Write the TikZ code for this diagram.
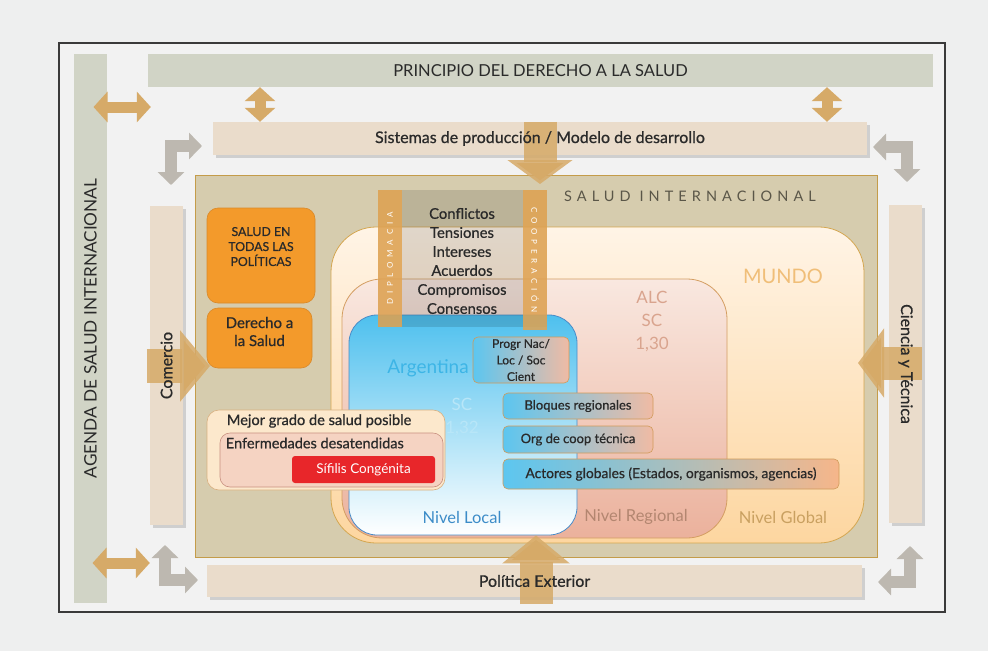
\documentclass[tikz,border=0pt]{standalone}
\usepackage{fontspec}
\setmainfont{Lato}
\newfontfamily\medfont{Lato}[FakeBold=0.7]
\usetikzlibrary{arrows.meta,shadows,positioning}

\definecolor{pagebg}{HTML}{EEEFEF}
\definecolor{framebg}{HTML}{F2F2F2}
\definecolor{frameline}{HTML}{3A3A3A}
\definecolor{greenbar}{HTML}{D1D4C6}
\definecolor{beigebar}{HTML}{EADCCB}
\definecolor{tanarrow}{HTML}{D6AA68}
\definecolor{grayarrow}{HTML}{BDB8B0}
\definecolor{saludbox}{HTML}{D6CCAE}
\definecolor{saludline}{HTML}{C49C4A}
\definecolor{orangebox}{HTML}{F39A2B}
\definecolor{orangeline}{HTML}{D9892A}
\definecolor{textdark}{HTML}{2A2A2A}
\definecolor{mundotop}{HTML}{FFF4E6}
\definecolor{mundobot}{HTML}{FDD6A0}
\definecolor{mundoline}{HTML}{D4A650}
\definecolor{alctop}{HTML}{F9E8E0}
\definecolor{alcbot}{HTML}{EBB19C}
\definecolor{alcline}{HTML}{D49E62}
\definecolor{argtop}{HTML}{4EC0EE}
\definecolor{argmid}{HTML}{74CCF1}
\definecolor{argline}{HTML}{4A8CC8}
\definecolor{boxblue}{HTML}{5CC6F0}
\definecolor{boxpink}{HTML}{F0BBA4}
\definecolor{boxmid}{HTML}{C9C3B6}
\definecolor{boxorange}{HTML}{F6B68A}
\definecolor{boxline}{HTML}{D09A5A}
\definecolor{stripcol}{HTML}{E2A452}
\definecolor{mejorfill}{HTML}{FCE8CC}
\definecolor{mejorline}{HTML}{D8B080}
\definecolor{enfermfill}{HTML}{F5D3C2}
\definecolor{enfermline}{HTML}{C89080}
\definecolor{sifilisred}{HTML}{E8262A}
\definecolor{mundotext}{HTML}{F0BE78}
\definecolor{alctext}{HTML}{D9A48E}
\definecolor{argtext}{HTML}{3DB5E6}
\definecolor{sctext}{HTML}{B8E6F8}
\definecolor{localtext}{HTML}{3C8CC8}
\definecolor{regiontext}{HTML}{B38670}
\definecolor{globaltext}{HTML}{C9A060}
\definecolor{titletext}{HTML}{5A5648}

\newcommand\fsz[2]{\fontsize{#1}{#2}\selectfont}

\begin{document}
\begin{tikzpicture}[x=1pt, y=-1pt, inner sep=0pt,
  flatbar/.style={fill=greenbar},
  bar/.style={fill=beigebar, drop shadow={shadow xshift=2.5pt, shadow yshift=-2.5pt, opacity=.3}},
  bartext/.style={font=\medfont\fsz{16}{18}, text=textdark},
  blockarrow/.style={draw=tanarrow, draw opacity=.85, line width=33pt},
  dblarrow/.style={draw=tanarrow, line width=11pt, {Triangle[width=30pt,length=14pt]}-{Triangle[width=30pt,length=14pt]}},
  bentarrow/.style={draw=grayarrow, line width=12pt, line join=miter, {Triangle[width=26pt,length=13pt]}-{Triangle[width=26pt,length=13pt]}},
  orangenode/.style={fill=orangebox, draw=orangeline, line width=.6pt, rounded corners=11pt, align=center, text=textdark},
  strip/.style={fill=stripcol, fill opacity=.85, text opacity=1, text=white, font=\fsz{8}{9}\addfontfeatures{LetterSpace=60}},
  actor/.style={left color=boxblue, right color=boxpink, draw=boxline, line width=.6pt, rounded corners=5pt, font=\medfont\fsz{13}{15}, text=textdark}]

\fill[pagebg] (0,0) rectangle (988,651);
\useasboundingbox (0,0) rectangle (988,651);
\node[fill=framebg, draw=frameline, line width=1.6pt, minimum width=886pt, minimum height=569pt] (frame) at (502,327.5) {};

% outer bars
\node[flatbar, rotate=90, minimum width=549pt, minimum height=33pt, font=\fsz{17.2}{19}, text=textdark] (agenda) at (90.5,328.5) {AGENDA DE SALUD INTERNACIONAL};
\node[flatbar, minimum width=785pt, minimum height=33pt, font=\fsz{16.5}{18}, text=textdark] (principio) at (540.5,70.5) {PRINCIPIO DEL DERECHO A LA SALUD};
\node[bar, minimum width=654pt, minimum height=33pt] (sistemas) at (540,138.5) {};
\node[bar, minimum width=33pt, minimum height=319pt] (comercio) at (166.5,365.5) {};
\node[bar, minimum width=33pt, minimum height=318pt] (ciencia) at (905.5,364) {};
\node[bar, minimum width=655pt, minimum height=32pt] (politica) at (534.5,581) {};

% double and bent arrows in the margin
\draw[dblarrow] ([xshift=3pt]agenda.east |- 0,107) -- ([xshift=3pt]principio.west |- 0,107);
\draw[dblarrow] (principio.south -| 260,0) -- (sistemas.north -| 260,0);
\draw[dblarrow] (principio.south -| 827,0) -- (sistemas.north -| 827,0);
\draw[dblarrow] ([xshift=2pt]agenda.east |- 0,563) -- (comercio.west |- 0,563);
\draw[bentarrow] (171,185) |- (202,146);
\draw[bentarrow] (873,147) -| (907,182);
\draw[bentarrow] (165,545) |- (198,580);
\draw[bentarrow] (910,546) |- (878,582);

% salud internacional and levels
\node[fill=saludbox, draw=saludline, line width=1pt, minimum width=682pt, minimum height=382pt] (salud) at (536,366) {};
\node[top color=mundotop, bottom color=mundobot, draw=mundoline, line width=.8pt, rounded corners=45pt, minimum width=533pt, minimum height=316pt] (mundo) at (597.5,385) {};
\node[top color=alctop, bottom color=alcbot, draw=alcline, line width=.8pt, rounded corners=40pt, minimum width=385pt, minimum height=259pt] (alc) at (534.5,408.5) {};
\node[top color=argtop, middle color=argmid, bottom color=white, draw=argline, line width=.8pt, rounded corners=28pt, minimum width=228pt, minimum height=220pt] (argentina) at (463,425) {};

% column of diplomacy
\node[fill=black, fill opacity=.12, minimum width=169pt, minimum height=137pt] (column) at (462.5,258.5) {};
\node[strip, rotate=90, minimum width=137pt, minimum height=24pt] (diplomacia) at (390,258.5) {DIPLOMACIA};
\node[strip, rotate=-90, minimum width=140pt, minimum height=24pt] (cooperacion) at (535,260) {COOPERACIÓN};
\node[align=center, font=\medfont\fsz{14.8}{19}, text=textdark] (tensiones) at (462,261) {Conflictos\\Tensiones\\Intereses\\Acuerdos\\Compromisos\\Consensos};

% left boxes
\node[orangenode, minimum width=108pt, minimum height=95pt, text depth=18pt, font=\medfont\fsz{12.3}{15}] (todas) at (261,255.5) {SALUD EN\\TODAS LAS\\POLÍTICAS};
\node[orangenode, minimum width=105pt, minimum height=60pt, text depth=13pt, font=\medfont\fsz{15}{18}] (derecho) at (259.5,338) {Derecho a\\la Salud};
\node[fill=mejorfill, draw=mejorline, line width=.6pt, rounded corners=12pt, minimum width=238pt, minimum height=80pt] (mejor) at (326,450) {};
\node[fill=enfermfill, draw=enfermline, line width=.6pt, rounded corners=10pt, minimum width=223pt, minimum height=54pt] (enferm) at (331.5,460) {};
\node[anchor=west, font=\medfont\fsz{14.6}{16}, text=textdark] (mejorT) at ([xshift=20pt]mejor.west |- 0,421) {Mejor grado de salud posible};
\node[anchor=west, font=\medfont\fsz{14.5}{16}, text=textdark] (enfermT) at ([xshift=6pt]enferm.west |- 0,443) {Enfermedades desatendidas};
\node[fill=sifilisred, rounded corners=3pt, minimum width=143pt, minimum height=27pt, font=\fsz{13.5}{15}, text=white] (sifilis) at (363.5,469.5) {Sífilis Congénita};

% actors
\node[actor, align=center, minimum width=96pt, minimum height=46pt, font=\medfont\fsz{12}{16.5}] (progr) at (521,360) {Progr Nac/\\Loc / Soc\\Cient};
\node[actor, minimum width=150pt, minimum height=26pt] (bloques) at (578,406) {Bloques regionales};
\node[actor, minimum width=150pt, minimum height=27pt] (orgcoop) at (578,439.5) {Org de coop técnica};
\node[actor, left color=boxblue, middle color=boxmid, right color=boxorange, minimum width=336pt, minimum height=30pt, font=\medfont\fsz{13.8}{15}] (actores) at (671,474) {Actores globales (Estados, organismos, agencias)};

% level labels
\node[font=\fsz{14.5}{17}\addfontfeatures{LetterSpace=35}, text=titletext] (saludT) at (690,196) {SALUD INTERNACIONAL};
\node[font=\fsz{20}{22}, text=mundotext] (mundoT) at (783,276) {MUNDO};
\node[align=center, font=\fsz{17}{23}, text=alctext] (alcT) at (652,321) {ALC\\SC\\1,30};
\node[font=\fsz{19}{21}, text=argtext] (argT) at (428,368) {Argentina};
\node[align=center, font=\fsz{17}{23}, text=sctext] (scT) at (462,416.5) {SC\\1,32};
\node[font=\fsz{16.5}{18}, text=localtext] (localT) at (462,517) {Nivel Local};
\node[font=\fsz{16.5}{18}, text=regiontext] (regionT) at (636,517) {Nivel Regional};
\node[font=\fsz{16.5}{18}, text=globaltext] (globalT) at (783,517) {Nivel Global};

% block arrows into the box
\draw[blockarrow, -{Triangle[width=64pt,length=24pt]}] (sistemas.north -| 540,0) -- (540,184);
\draw[blockarrow, -{Triangle[width=66pt,length=28pt]}] (536,604) -- (argentina.south -| 536,0);
\draw[blockarrow, line width=34pt, -{Triangle[width=70pt,length=30pt]}] ([xshift=-3pt]comercio.west |- 0,366) -- (210,366);
\draw[blockarrow, -{Triangle[width=68pt,length=26pt]}] (ciencia.east |- 0,363) -- (858,363);

% texts on the bars
\node[bartext] (sistemasT) at (sistemas) {Sistemas de producción / Modelo de desarrollo};
\node[bartext] (politicaT) at (politica) {Política Exterior};
\node[bartext, rotate=90] (comercioT) at (comercio) {Comercio};
\node[bartext, rotate=-90] (cienciaT) at (ciencia) {Ciencia y Técnica};
\end{tikzpicture}
\end{document}
